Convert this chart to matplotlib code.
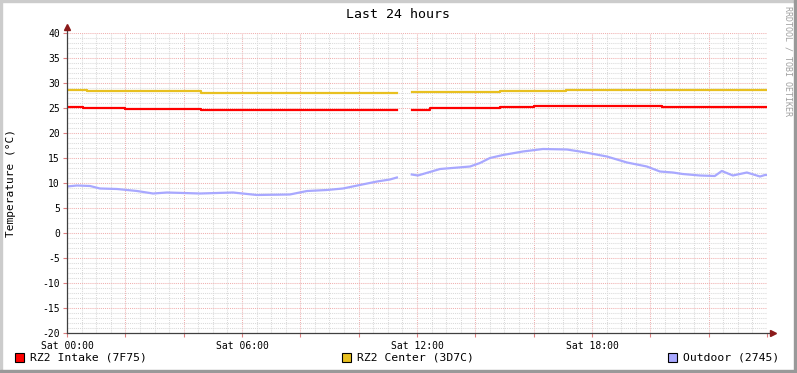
import matplotlib
matplotlib.use('Agg')
import matplotlib.pyplot as plt
from matplotlib.patches import Rectangle
import numpy as np

plt.rcParams['font.family'] = 'DejaVu Sans Mono'
plt.rcParams['axes.unicode_minus'] = False

nan = np.nan

# data (hours since Sat 00:00)
intake_t = [0, 0.55, 2.0, 4.6, 11.31, 11.32, 11.83, 12.45, 14.85, 16.0, 20.4, 24.0]
intake = [25.3, 25.1, 24.9, 24.7, 24.7, nan, 24.7, 25.0, 25.2, 25.4, 25.2, 25.2]

center_t = [0, 0.7, 4.6, 11.31, 11.32, 11.83, 14.85, 17.1, 24.0]
center = [28.6, 28.5, 28.1, 28.1, nan, 28.2, 28.5, 28.7, 28.7]

outdoor_t = [0, 0.34, 0.79, 1.13, 1.71, 2.4, 2.95, 3.43, 4.56, 5.69, 6.51, 7.64,
             8.23, 8.91, 9.46, 10.04, 10.63, 11.07, 11.31, 11.5,
             11.82, 12.03, 12.79, 13.82, 14.16, 14.5, 14.95, 15.63, 16.32, 17.14,
             17.69, 18.51, 19.2, 19.88, 20.33, 20.77, 21.11, 21.7, 22.21, 22.45,
             22.83, 23.31, 23.76, 23.93, 24.0]
outdoor = [9.3, 9.5, 9.4, 8.9, 8.8, 8.4, 7.9, 8.1, 7.9, 8.1, 7.6, 7.7,
           8.4, 8.6, 8.9, 9.6, 10.3, 10.7, 11.1, nan,
           11.7, 11.5, 12.8, 13.3, 14.0, 15.0, 15.6, 16.3, 16.8, 16.7,
           16.2, 15.3, 14.1, 13.3, 12.3, 12.1, 11.8, 11.5, 11.4, 12.4,
           11.5, 12.1, 11.3, 11.6, 11.6]

tick_hours = [0, 6, 12, 18]
tick_labels = ['Sat 00:00', 'Sat 06:00', 'Sat 12:00', 'Sat 18:00']
legend_names = ['RZ2 Intake (7F75)', 'RZ2 Center (3D7C)', 'Outdoor (2745)']
colors = ['#FF0000', '#E8C020', '#A8A8FF']

W, H = 797, 373
fig = plt.figure(figsize=(W / 100, H / 100), dpi=100)
fig.patch.set_facecolor('white')

# frame (rrdtool style shadow)
fig.patches.append(Rectangle((0, 0), 2 / W, 1, transform=fig.transFigure, color='#CCCCCC', zorder=0))
fig.patches.append(Rectangle((0, 1 - 2 / H), 1, 2 / H, transform=fig.transFigure, color='#CCCCCC', zorder=0))
fig.patches.append(Rectangle((1 - 3 / W, 0), 3 / W, 1, transform=fig.transFigure, color='#999999', zorder=0))
fig.patches.append(Rectangle((0, 0), 1, 3 / H, transform=fig.transFigure, color='#999999', zorder=0))

ax = fig.add_axes([67 / W, 40 / H, 700 / W, 300 / H])
ax.set_xlim(0, 24)
ax.set_ylim(-20, 40)
ax.set_facecolor('white')
for s in ax.spines.values():
    s.set_visible(False)

# grid
dot = (0, (1, 1))
for h in np.arange(0.5, 24.01, 0.5):
    c = '#F0B0B0' if h % 2 == 0 else '#DADADA'
    ax.axvline(h, color=c, lw=0.75, ls=dot, zorder=1)
for v in range(-19, 41):
    c = '#F0B0B0' if v % 5 == 0 else '#DADADA'
    ax.axhline(v, color=c, lw=0.75, ls=dot, zorder=1)

# data lines
ax.plot(intake_t, intake, color=colors[0], lw=1.6, drawstyle='steps-post', zorder=3)
ax.plot(center_t, center, color=colors[1], lw=1.6, drawstyle='steps-post', zorder=3)
ax.plot(outdoor_t, outdoor, color=colors[2], lw=1.6, zorder=3)

# axes with arrows
ax.plot([0, 1.009], [0, 0], transform=ax.transAxes, clip_on=False, color='#404040', lw=0.9, zorder=4)
ax.plot([0, 0], [0, 1.02], transform=ax.transAxes, clip_on=False, color='#404040', lw=0.9, zorder=4)
ax.plot([1.009], [0], marker='>', ms=4, color='#8B1A1A', transform=ax.transAxes, clip_on=False, zorder=5)
ax.plot([0], [1.02], marker='^', ms=4, color='#8B1A1A', transform=ax.transAxes, clip_on=False, zorder=5)

ax.set_xticks(tick_hours)
ax.set_xticklabels(tick_labels)
ax.set_xticks(np.arange(0, 24.01, 2), minor=True)
ax.set_yticks(range(-20, 41, 5))
ax.set_yticks(range(-20, 41, 1), minor=True)
ax.tick_params(axis='both', which='major', length=3, width=0.8, color='#E08080',
               labelsize=7, pad=2)
ax.tick_params(axis='x', which='minor', length=3, width=0.8, color='#E08080')
ax.tick_params(axis='y', which='minor', length=0)
ax.tick_params(axis='x', pad=3)

fig.text(398 / W, 1 - 14 / H, 'Last 24 hours', ha='center', va='center', fontsize=9.5)
fig.text(11 / W, 1 - 183 / H, 'Temperature (°C)', rotation=90, ha='center', va='center', fontsize=8)
fig.text(788 / W, 1 - 61 / H, 'RRDTOOL / TOBI OETIKER', rotation=270, ha='center', va='center',
         fontsize=6, color='#A0A0A0')

# legend
legend_x = [15, 342, 668]
for x, name, c in zip(legend_x, legend_names, colors):
    fig.patches.append(Rectangle((x / W, 1 - 362 / H), 9 / W, 9 / H, transform=fig.transFigure,
                                 facecolor=c, edgecolor='black', lw=0.8))
    fig.text((x + 15) / W, 1 - 358 / H, name, ha='left', va='center', fontsize=8.2)

plt.savefig('out.png', dpi=100)
